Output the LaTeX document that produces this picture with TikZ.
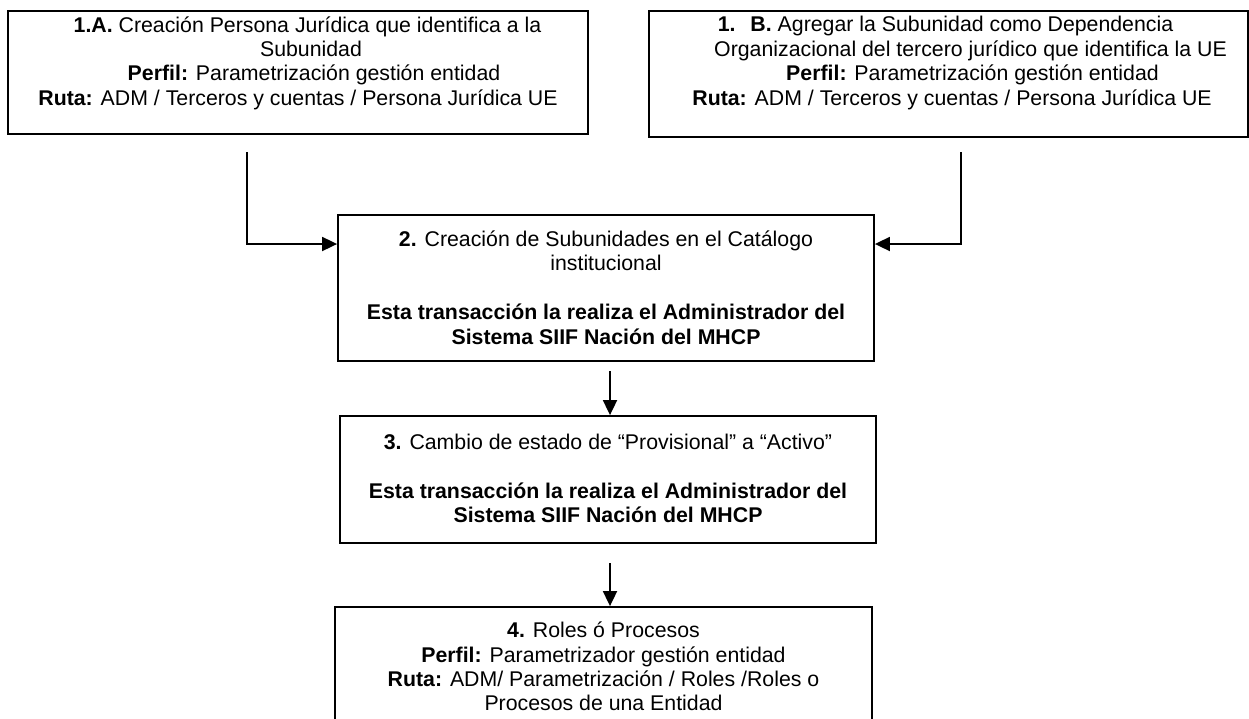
\documentclass[tikz,border=0pt]{standalone}
\usepackage{fontspec}
\setmainfont{Liberation Sans}
\usetikzlibrary{arrows.meta}
\newcommand\shl[2]{\makebox[0pt]{\hspace*{#1}#2}}
\begin{document}
\begin{tikzpicture}[x=1pt,y=-1pt,
  box/.style={draw, line width=1.8pt, inner sep=0pt},
  txt/.style={align=center, inner sep=0pt, font=\fontsize{21.3pt}{24.4pt}\selectfont},
  conn/.style={line width=1.8pt, -{Triangle[length=15pt,width=14pt]}}]
\useasboundingbox (0,0) rectangle (1249,718);
\clip (0,0) rectangle (1249,718);
% boxes
\node[box, minimum width=580pt, minimum height=123pt] (b1a) at (298,72.5) {};
\node[box, minimum width=599pt, minimum height=126pt] (b1b) at (948.5,74) {};
\node[box, minimum width=536pt, minimum height=146pt] (b2) at (606,288) {};
\node[box, minimum width=536pt, minimum height=127pt] (b3) at (608,479.5) {};
\node[box, minimum width=537pt, minimum height=121pt] (b4) at (603.5,667.5) {};
% texts
\node[txt] (t1a) at (298,63) {%
  \shl{19pt}{\textbf{1.A.} Creación Persona Jurídica que identifica a la}\\
  \shl{26pt}{Subunidad}\\
  \shl{32pt}{\textbf{Perfil:} Parametrización gestión entidad}\\
  \shl{0pt}{\textbf{Ruta:} ADM / Terceros y cuentas / Persona Jurídica UE}};
\node[txt] (t1b) at (948.5,63) {%
  \shl{-6pt}{\textbf{1.}\hspace{0.7em}\textbf{B.} Agregar la Subunidad como Dependencia}\\
  \shl{44pt}{Organizacional del tercero jurídico que identifica la UE}\\
  \shl{48pt}{\textbf{Perfil:} Parametrización gestión entidad}\\
  \shl{7pt}{\textbf{Ruta:} ADM / Terceros y cuentas / Persona Jurídica UE}};
\node[txt] (t2) at (606,287.5) {%
  \textbf{2.} Creación de Subunidades en el Catálogo\\
  institucional\\[24.4pt]
  \textbf{Esta transacción la realiza el Administrador del}\\
  \textbf{Sistema SIIF Nación del MHCP}};
\node[txt] (t3) at (608,478.5) {%
  \textbf{3.} Cambio de estado de “Provisional” a “Activo”\\[24.4pt]
  \textbf{Esta transacción la realiza el Administrador del}\\
  \textbf{Sistema SIIF Nación del MHCP}};
\node[txt] (t4) at (603.5,666.5) {%
  \textbf{4.} Roles ó Procesos\\
  \textbf{Perfil:} Parametrizador gestión entidad\\
  \textbf{Ruta:} ADM/ Parametrización / Roles /Roles o\\
  Procesos de una Entidad};
% connector start points
\coordinate (c1) at (247,152);
\coordinate (c2) at (961,152);
\coordinate (c3) at (610,371);
\coordinate (c4) at (610,563);
\draw[conn] (c1) |- ([yshift=44pt]b2.west);
\draw[conn] (c2) |- ([yshift=44pt]b2.east);
\draw[conn] (c3) -- (c3 |- b3.north);
\draw[conn] (c4) -- (c4 |- b4.north);
\end{tikzpicture}
\end{document}
